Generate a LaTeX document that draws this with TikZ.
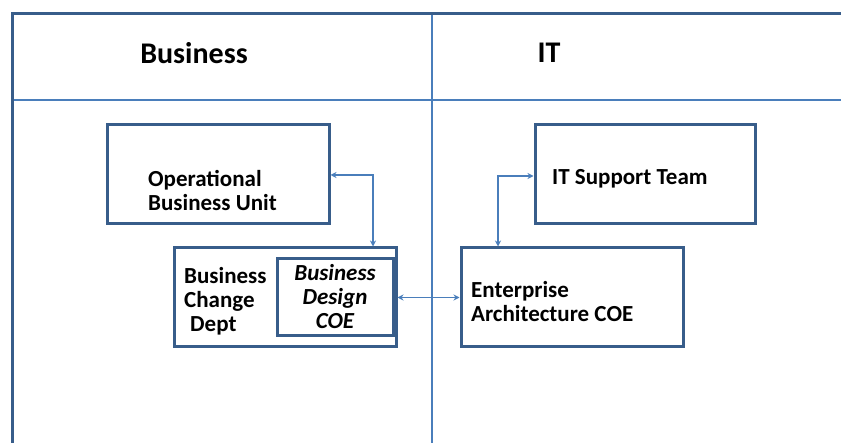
\documentclass[tikz,border=0pt]{standalone}
\usepackage{fontspec}
\setmainfont{Carlito}
\usetikzlibrary{arrows.meta}
\definecolor{boxblue}{HTML}{385D8A}
\definecolor{lineblue}{HTML}{4A7EBB}
\tikzset{
  frame/.style={draw=boxblue, line width=3pt},
  divider/.style={draw=lineblue, line width=1.3pt},
  unitbox/.style={draw=boxblue, line width=3pt, fill=none},
  label/.style={font=\bfseries\fontsize{23}{24}\selectfont, align=left, inner sep=0pt, text=black},
  heading/.style={font=\bfseries\fontsize{30}{32}\selectfont, inner sep=0pt, text=black},
  link/.style={draw=lineblue, line width=1.3pt, {Stealth[length=6pt,width=6pt]}-{Stealth[length=6pt,width=6pt]}},
}
\begin{document}
\begin{tikzpicture}[x=1pt,y=-1pt]
\useasboundingbox (0,0) rectangle (841,443);
% swimlane frame
\draw[divider] (432,14) -- (432,443);
\draw[divider] (12,100) -- (841,100);
\draw[frame] (841,14) -- (12,14) -- (12,443);
\node[heading] (hbus) at (194,53) {Business};
\node[heading] (hit) at (549,53) {IT};
% boxes
\node[unitbox, minimum width=222pt, minimum height=99pt, inner sep=0pt] (obu) at (218,174.5) {};
\node[unitbox, minimum width=222pt, minimum height=99pt, inner sep=0pt] (bcd) at (285,297.5) {};
\node[unitbox, minimum width=116pt, minimum height=77pt, inner sep=0pt] (bdc) at (335,297.5) {};
\node[unitbox, minimum width=220pt, minimum height=99pt, inner sep=0pt] (its) at (645,174.5) {};
\node[unitbox, minimum width=222pt, minimum height=99pt, inner sep=0pt] (eac) at (572,297.5) {};
% box texts
\node[label, anchor=west] (tobu) at (148,191) {Operational\\Business Unit};
\node[label, anchor=west] (tbcd) at (184,301) {Business\\Change\\\hspace{6pt}Dept};
\node[label, align=center, font=\bfseries\itshape\fontsize{23}{24}\selectfont] (tbdc) at (335,297) {Business\\Design\\COE};
\node[label, anchor=west] (tits) at (552,179) {IT Support Team};
\node[label, anchor=west] (teac) at (471,301.5) {Enterprise\\Architecture COE};
% connectors
\coordinate (c1) at (373,175);
\coordinate (c2) at (498,176);
\draw[link] (obu.east |- c1) -- (c1) -- (c1 |- bcd.north);
\draw[link] (its.west |- c2) -- (c2) -- (c2 |- eac.north);
\draw[link] (bcd.east) -- (eac.west);
\end{tikzpicture}
\end{document}
